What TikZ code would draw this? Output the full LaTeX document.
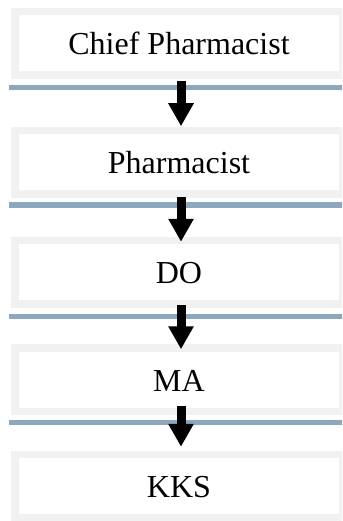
\documentclass[tikz,border=0pt]{standalone}
\usepackage{fontspec}
\setmainfont{Liberation Serif}
\usetikzlibrary{arrows.meta}
\definecolor{boxrim}{RGB}{241,241,241}
\definecolor{rule}{RGB}{141,167,191}
\tikzset{
  rank/.style={draw=boxrim, line width=7.5pt, fill=white,
    minimum width=328pt, minimum height=63.5pt, inner sep=0pt,
    text height=23pt, text depth=0pt,
    font=\fontsize{32}{36}\selectfont},
  underline/.style={draw=rule, line width=5.5pt},
  down/.style={line width=9pt, -{Triangle[width=24pt,length=23pt]}}
}
\begin{document}
\begin{tikzpicture}
\useasboundingbox (0,0) rectangle (342pt,-521pt);
\clip (0,0) rectangle (342pt,-521pt);

% hierarchy boxes
\node[rank] (chief) at (179pt,-43.5pt)  {Chief Pharmacist};
\node[rank] (pharm) at (179pt,-162.5pt) {Pharmacist};
\node[rank] (do)    at (179pt,-272pt)   {DO};
\node[rank] (ma)    at (179pt,-379.5pt) {MA};
\node[rank] (kks)   at (179pt,-486pt)   {KKS};

% rules under the upper four boxes
\foreach \b/\s in {chief/-8.75pt, pharm/-7.25pt, do/-8.75pt, ma/-7.25pt}
  \draw[underline] ([xshift=-2pt,yshift=\s]\b.south west) -- ([xshift=10pt,yshift=\s]\b.south east);

% arrows between levels
\draw[down] ([xshift=2pt,yshift=-1.75pt]chief.south) -- ([xshift=2pt,yshift=0.75pt]pharm.north);
\draw[down] ([xshift=2pt,yshift=1.25pt]pharm.south) -- ([xshift=2pt,yshift=-5.25pt]do.north);
\draw[down] ([xshift=2pt,yshift=2.25pt]do.south) -- ([xshift=2pt,yshift=-5.25pt]ma.north);
\draw[down] ([xshift=2pt,yshift=9.25pt]ma.south) -- ([xshift=2pt,yshift=3.75pt]kks.north);
\end{tikzpicture}
\end{document}
